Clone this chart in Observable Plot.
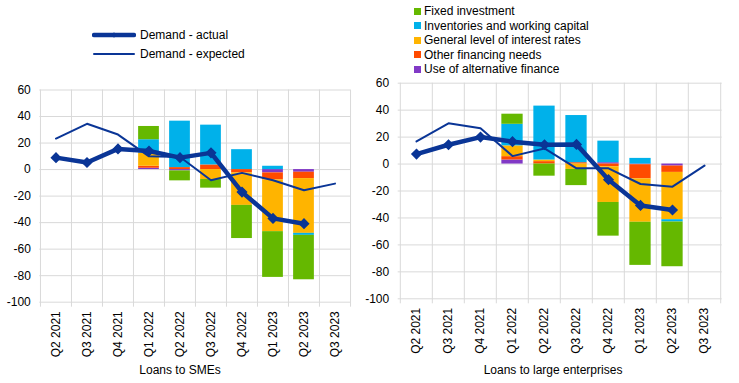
<!DOCTYPE html>
<html><head><meta charset="utf-8">
<script src="https://cdn.jsdelivr.net/npm/d3@7"></script>
<script src="https://cdn.jsdelivr.net/npm/@observablehq/plot@0.6"></script>
<style>
body{margin:0;background:#fff;}
#root{position:relative;width:739px;height:383px;font-family:"Liberation Sans",Arial,sans-serif;color:#000;overflow:hidden;background:#fff}
.panel{position:absolute;top:0}
.lg{position:absolute;font-size:12px;white-space:nowrap;line-height:14px}
.sq{position:absolute;width:7px;height:7px}
.ttl{position:absolute;font-size:12px;white-space:nowrap;transform:translateX(-50%)}
</style></head><body><div id="root"></div>
<script>
const categories = ["Q2 2021","Q3 2021","Q4 2021","Q1 2022","Q2 2022","Q3 2022","Q4 2022","Q1 2023","Q2 2023","Q3 2023"];
const seriesNames = ["Fixed investment","Inventories and working capital","General level of interest rates","Other financing needs","Use of alternative finance"];
const seriesColors = ["#65b800","#00b1ea","#ffb400","#ff4b00","#8139c6"];
const lineNames = ["Demand - actual","Demand - expected"];
const yTicks = [60,40,20,0,-20,-40,-60,-80,-100];
const panelTitles = ["Loans to SMEs","Loans to large enterprises"];

// Loans to SMEs
const smeFixed       = [null,null,null,10,-7.5,-6.5,-25,-34.5,-33.5,null];
const smeInventories = [null,null,null,10,35,30,15,2.5,-1.5,null];
const smeRates       = [null,null,null,10,0,-7.5,-24.5,-39,-41.3,null];
const smeOther       = [null,null,null,1.5,1.5,3.5,-2.5,-5.3,-4.8,null];
const smeAlt         = [null,null,null,1,-1,0,0,-2.5,-2,null];
const smeActual      = [9,5.3,15.6,14,9,12.6,-17,-36.8,-40.8,null];
const smeExpected    = [23.4,34.5,26.4,10,9.5,-8,-2.5,-8,-15.6,-10.6];

// Loans to large enterprises
const largeFixed       = [null,null,null,7.5,-9,-12,-25,-32,-33.2,null];
const largeInventories = [null,null,null,16,40,35,16,4.2,-1.7,null];
const largeRates       = [null,null,null,8,1.2,-4,-26.5,-32.2,-35.1,null];
const largeOther       = [null,null,null,2.5,1.8,1,-2,-10.5,-4.7,null];
const largeAlt         = [null,null,null,3,0,0,1,-0.5,-1.5,null];
const largeActual      = [7.4,14.3,20,16.6,14.3,14.6,-11.6,-30.7,-34.1,null];
const largeExpected    = [16.8,30.2,26.5,5.9,11.6,-3.2,-3.2,-14.8,-16.8,-1.2];

const lineColor = "#0a3596";
const gridColor = "#d9d9d9";

function toRows(arr){ return categories.map((c,i)=>({cat:c, value:arr[i]})).filter(d=>d.value!=null); }

function panel(o){
  const n = categories.length;
  const step = (o.width - o.ml - o.mr)/n;
  const series = [o.fixed,o.inv,o.rates,o.other,o.alt];
  const rows = [];
  // stack from zero outward: alt, other, rates, inventories, fixed
  [4,3,2,1,0].forEach(k=>{
    series[k].forEach((v,i)=>{ if(v!=null) rows.push({cat:categories[i], series:seriesNames[k], value:v}); });
  });
  const act = toRows(o.actual), exp = toRows(o.expected);
  return Plot.plot({
    width:o.width, height:383,
    marginLeft:o.ml, marginRight:o.mr, marginTop:o.mt, marginBottom:o.mb,
    style:{fontFamily:"'Liberation Sans', Arial, sans-serif", fontSize:"12px", background:"transparent", color:"#000", overflow:"visible"},
    x:{domain:categories, padding:0, label:null, tickSize:0, tickRotate:-90, tickPadding:9},
    y:{domain:[-100,60], ticks:yTicks, label:null, tickSize:0, tickPadding:9, tickFormat:d=>String(d)},
    color:{domain:seriesNames, range:seriesColors},
    marks:[
      Plot.ruleY(yTicks, {stroke:gridColor, strokeWidth:1}),
      Plot.ruleX(categories, {x:d=>d, dx:-step/2, stroke:gridColor, strokeWidth:1, insetBottom:-5}),
      Plot.ruleX([categories[n-1]], {x:d=>d, dx:step/2, stroke:gridColor, strokeWidth:1, insetBottom:-5}),
      Plot.barY(rows, {x:"cat", y:"value", fill:"series", order:[...seriesNames].reverse(), insetLeft:step*0.165, insetRight:step*0.165}),
      Plot.line(exp, {x:"cat", y:"value", stroke:lineColor, strokeWidth:2}),
      Plot.line(act, {x:"cat", y:"value", stroke:lineColor, strokeWidth:4.5}),
      Plot.dot(act, {x:"cat", y:"value", symbol:"square", rotate:45, r:3.6, fill:lineColor, stroke:lineColor})
    ]
  });
}

const root = document.getElementById("root");

const p1 = panel({width:355, ml:39.3, mr:5, mt:89.5, mb:81.3,
  fixed:smeFixed, inv:smeInventories, rates:smeRates, other:smeOther, alt:smeAlt, actual:smeActual, expected:smeExpected});
const d1 = document.createElement("div"); d1.className="panel"; d1.style.left="0px"; d1.appendChild(p1); root.appendChild(d1);

const p2 = panel({width:384, ml:42.7, mr:17.3, mt:82.7, mb:84.7,
  fixed:largeFixed, inv:largeInventories, rates:largeRates, other:largeOther, alt:largeAlt, actual:largeActual, expected:largeExpected});
const d2 = document.createElement("div"); d2.className="panel"; d2.style.left="355px"; d2.appendChild(p2); root.appendChild(d2);

// titles
[[panelTitles[0],180],[panelTitles[1],553]].forEach(([t,x])=>{
  const e=document.createElement("div"); e.className="ttl"; e.textContent=t; e.style.left=x+"px"; e.style.top="363px"; root.appendChild(e);
});

// line legend
const ns="http://www.w3.org/2000/svg";
[[lineNames[0],35,4.5,true],[lineNames[1],54,2,false]].forEach(([t,y,w,mk])=>{
  const s=document.createElementNS(ns,"svg"); s.setAttribute("width","44"); s.setAttribute("height","12");
  s.style.position="absolute"; s.style.left="92px"; s.style.top=(y-6)+"px";
  const l=document.createElementNS(ns,"line"); l.setAttribute("x1","2"); l.setAttribute("x2","42"); l.setAttribute("y1","6"); l.setAttribute("y2","6");
  l.setAttribute("stroke",lineColor); l.setAttribute("stroke-width",w); l.setAttribute("stroke-linecap","round"); s.appendChild(l);
  if(mk){ const m=document.createElementNS(ns,"path"); m.setAttribute("d","M22,3 L23.5,6 L22,9 L20.5,6Z"); m.setAttribute("fill",lineColor); s.appendChild(m); }
  root.appendChild(s);
  const e=document.createElement("div"); e.className="lg"; e.textContent=t; e.style.left="140px"; e.style.top=(y-7)+"px"; root.appendChild(e);
});

// bar legend
const legY=[11,25.5,40,54.5,69];
seriesNames.forEach((nm,i)=>{
  const q=document.createElement("div"); q.className="sq"; q.style.background=seriesColors[i]; q.style.left="414px"; q.style.top=(legY[i]-3.5)+"px"; root.appendChild(q);
  const e=document.createElement("div"); e.className="lg"; e.textContent=nm; e.style.left="424px"; e.style.top=(legY[i]-7)+"px"; root.appendChild(e);
});
</script>
</body></html>
